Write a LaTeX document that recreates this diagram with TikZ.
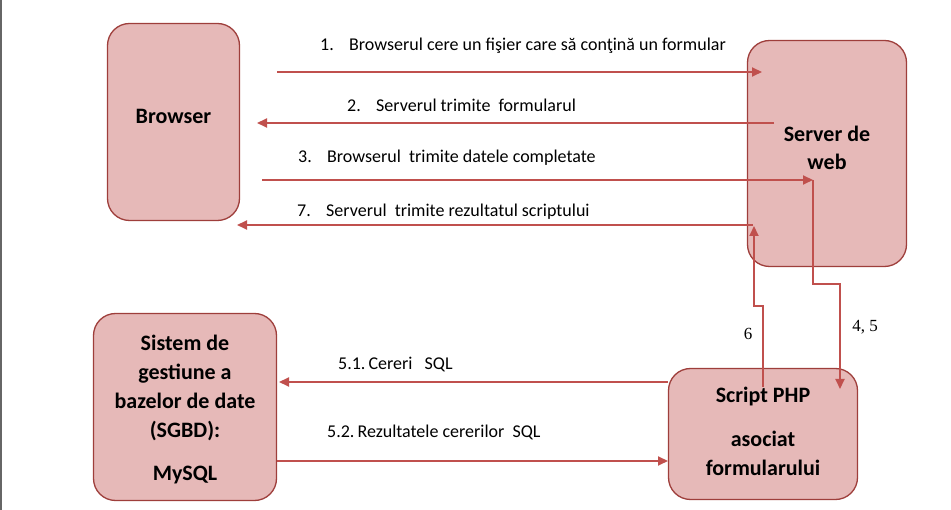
\documentclass[tikz,border=0pt]{standalone}
\usepackage{fontspec}
\setmainfont{Carlito}
\newfontfamily\serifnum{Liberation Serif}
\usetikzlibrary{arrows.meta}
\definecolor{boxfill}{HTML}{E6B9B8}
\definecolor{boxdraw}{HTML}{9E3E3B}
\definecolor{arrowcol}{HTML}{C0504D}
\tikzset{
 box/.style={draw=boxdraw, fill=boxfill, line width=1.3pt, rounded corners=22pt, align=center, font=\fontsize{22}{29}\selectfont\bfseries, inner sep=0pt},
 arr/.style={draw=arrowcol, line width=2pt, -{Triangle[length=10pt,width=9pt]}},
 lbl/.style={anchor=west, font=\fontsize{18}{21}\selectfont, inner sep=0pt},
 num/.style={font=\serifnum\fontsize{17}{20}\selectfont, inner sep=0pt}
}
\newcommand{\itm}[1]{\makebox[29pt][l]{#1}}
\newcommand{\lift}[2]{\raisebox{#1}[\height][\depth]{#2}}
\begin{document}
\begin{tikzpicture}[x=1pt,y=-1pt]
\useasboundingbox (0,0) rectangle (951,510);
\draw[black!60, line width=2pt] (1,0) -- (1,510);
% boxes
\node[box, minimum width=132pt, minimum height=197pt] (browser) at (173.5,122) {\lift{6pt}{Browser}};
\node[box, minimum width=159pt, minimum height=226pt] (server) at (827,153.5) {\lift{4pt}{\begin{tabular}{c}Server de\\[-1pt]web\end{tabular}}};
\node[box, minimum width=189pt, minimum height=131pt] (script) at (763,434) {\lift{1pt}{\begin{tabular}{c}Script PHP\\[15pt]asociat\\formularului\end{tabular}}};
\node[box, minimum width=183pt, minimum height=187pt] (sgbd) at (185,407) {\lift{-3pt}{\begin{tabular}{c}Sistem de\\gestiune a\\bazelor de date\\(SGBD):\\[14pt]MySQL\end{tabular}}};
% coordinates
\coordinate (a1s) at (277,72);
\coordinate (a1e) at (762,72);
\coordinate (a2s) at (774,123);
\coordinate (a2e) at (257,123);
\coordinate (a3s) at (262,180);
\coordinate (a3e) at (813,180);
\coordinate (b45) at (840,284);
\coordinate (a45e) at (840,389);
\coordinate (a6s) at (763,387);
\coordinate (b6) at (754,306);
\coordinate (a6e) at (754,226);
\coordinate (a7s) at (753,225);
\coordinate (a7e) at (237,225);
\coordinate (a51s) at (668,382);
\coordinate (a51e) at (279,382);
\coordinate (a52s) at (277,461);
\coordinate (a52e) at (668,461);
% connectors
\draw[arr] (a1s) -- (a1e);
\draw[arr] (a2s) -- (a2e);
\draw[arr] (a3s) -- (a3e);
\draw[arr] (a3e) |- (b45) -- (a45e);
\draw[arr] (a6s) |- (b6) -- (a6e);
\draw[arr] (a7s) -- (a7e);
\draw[arr] (a51s) -- (a51e);
\draw[arr] (a52s) -- (a52e);
% labels
\node[lbl] (l1) at (320,46) {\itm{1.}Browserul cere un fişier care să conţină un formular};
\node[lbl] (l2) at (347,105) {\itm{2.}Serverul trimite\ \ formularul};
\node[lbl] (l3) at (298,158) {\itm{3.}Browserul\ \ trimite datele completate};
\node[lbl] (l7) at (297,212) {\itm{7.}Serverul\ \ trimite rezultatul scriptului};
\node[lbl] (l51) at (338,365) {5.1.\,Cereri\ \ \ SQL};
\node[lbl] (l52) at (327,432) {5.2.\,Rezultatele cererilor\ \ SQL};
\node[num] (l6) at (748,334) {6};
\node[num] (l45) at (865,327) {4, 5};
\end{tikzpicture}
\end{document}
